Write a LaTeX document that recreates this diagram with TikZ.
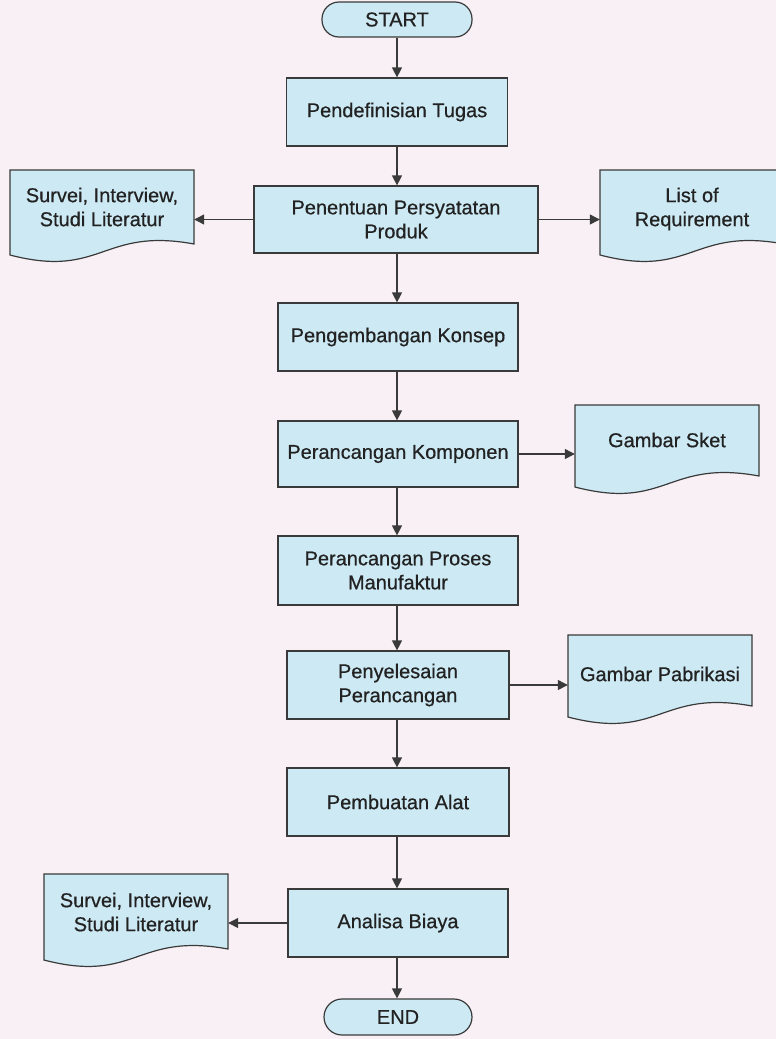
\documentclass[tikz,border=0pt]{standalone}
\usepackage{fontspec}
\setmainfont{Liberation Sans}
\newfontfamily\lbfont[BoldFont=Liberation Sans, BoldFeatures={FakeBold=0.6}]{Liberation Sans}
\usetikzlibrary{arrows.meta}
\definecolor{bgc}{HTML}{F8F0F4}
\definecolor{boxfill}{HTML}{CDEAF4}
\definecolor{linec}{HTML}{3A3A3A}
\definecolor{txtc}{HTML}{222222}
\tikzset{
  lbl/.style={font=\lbfont\bfseries\fontsize{20}{24}\selectfont, text=txtc, align=center},
  procbox/.style={lbl, draw=linec, line width=1.2pt, fill=boxfill, minimum height=68pt, inner sep=2pt},
  termbox/.style={lbl, draw=linec, line width=1.2pt, fill=boxfill, rounded corners=17pt, minimum height=35pt, inner sep=2pt},
  doctext/.style={lbl, minimum width=184pt, inner sep=0pt},
  docline/.style={draw=linec, line width=1.2pt, fill=boxfill},
  arr/.style={draw=linec, line width=1.2pt, -{Triangle[width=10pt,length=10pt]}}
}
% #1 x0, #2 y0 (top), #3 height to left bottom
\newcommand\docoutline[3]{%
  \path[docline] (#1,#2) -- (#1+184,#2) -- (#1+184,#2+#3-11)
    .. controls (#1+92,#2+#3-28) and (#1+92,#2+#3+24) .. (#1,#2+#3) -- cycle;
}
\begin{document}
\begin{tikzpicture}[x=1pt,y=-1pt]
\useasboundingbox (0,0) rectangle (776,1039);
\clip (0,0) rectangle (776,1039);
\fill[bgc] (0,0) rectangle (776,1039);

% main column
\node[termbox, minimum width=150pt] (start) at (397,19.5) {START};
\node[procbox, minimum width=221pt] (t1) at (397,112) {Pendefinisian Tugas};
\node[procbox, minimum width=284pt, minimum height=67pt] (t2) at (396,219.5) {Penentuan Persyatatan\\Produk};
\node[procbox, minimum width=240pt] (t3) at (398,337) {Pengembangan Konsep};
\node[procbox, minimum width=240pt, minimum height=66pt] (t4) at (398,454) {Perancangan Komponen};
\node[procbox, minimum width=240pt, minimum height=69pt] (t5) at (398,570.5) {Perancangan Proses\\Manufaktur};
\node[procbox, minimum width=222pt] (t6) at (398,685) {Penyelesaian\\Perancangan};
\node[procbox, minimum width=222pt] (t7) at (398,802) {Pembuatan Alat};
\node[procbox, minimum width=220pt] (t8) at (398,923) {Analisa Biaya};
\node[termbox, minimum width=148pt, minimum height=36pt, rounded corners=18pt] (end) at (398,1017) {END};

% documents
\docoutline{10}{170}{85}
\node[doctext] (d1) at (102,207) {Survei, Interview,\\Studi Literatur};
\docoutline{600}{170}{85}
\node[doctext] (d2) at (692,209) {List of\\Requirement};
\docoutline{575}{405}{82}
\node[doctext] (d3) at (667,440) {Gambar Sket};
\docoutline{568}{635}{82}
\node[doctext] (d4) at (660,674) {Gambar Pabrikasi};
\docoutline{44}{874}{86}
\node[doctext] (d5) at (136,912) {Survei, Interview,\\Studi Literatur};

% vertical connectors
\draw[arr] (start.south -| t1.north) -- (t1.north);
\draw[arr] (t1.south) -- (t1.south |- t2.north);
\draw[arr] (t1.south |- t2.south) -- (t1.south |- t3.north);
\draw[arr] (t1.south |- t3.south) -- (t1.south |- t4.north);
\draw[arr] (t1.south |- t4.south) -- (t1.south |- t5.north);
\draw[arr] (t1.south |- t5.south) -- (t1.south |- t6.north);
\draw[arr] (t1.south |- t6.south) -- (t1.south |- t7.north);
\draw[arr] (t1.south |- t7.south) -- (t1.south |- t8.north);
\draw[arr] (t1.south |- t8.south) -- (t1.south |- end.north);

% horizontal connectors
\draw[arr] (t2.west) -- (t2.west -| d1.east);
\draw[arr] (t2.east) -- (t2.east -| d2.west);
\draw[arr] (t4.east) -- (t4.east -| d3.west);
\draw[arr] (t6.east) -- (t6.east -| d4.west);
\draw[arr] (t8.west) -- (t8.west -| d5.east);
\end{tikzpicture}
\end{document}
